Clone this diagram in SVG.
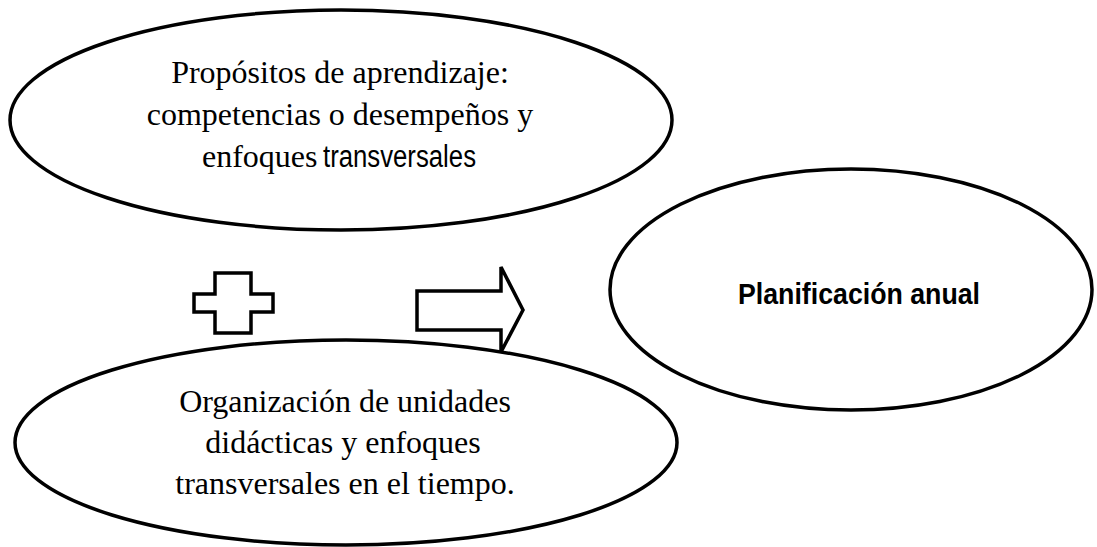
<svg xmlns="http://www.w3.org/2000/svg" width="1097" height="547" viewBox="0 0 1097 547">
  <style>
    .shape { fill: #ffffff; stroke: #000000; stroke-width: 3.5; }
    .serif { font-family: "Liberation Serif", "Times New Roman", serif; font-size: 32px; fill: #000000; }
    .sans { font-family: "Liberation Sans", Arial, sans-serif; font-size: 31px; fill: #000000; }
    .bold { font-family: "Liberation Sans", Arial, sans-serif; font-size: 30px; font-weight: bold; fill: #000000; }
  </style>
  <rect width="1097" height="547" fill="#ffffff"/>

  <g id="node-propositos">
    <ellipse class="shape" cx="341" cy="120" rx="331" ry="110"/>
    <text class="serif" x="340" y="83" text-anchor="middle">Propósitos de aprendizaje:</text>
    <text class="serif" x="340" y="125" text-anchor="middle">competencias o desempeños y</text>
    <text class="serif" y="167"><tspan x="202">enfoques</tspan><tspan class="sans" x="323" textLength="153" lengthAdjust="spacingAndGlyphs">transversales</tspan></text>
  </g>

  <g id="node-organizacion">
    <ellipse class="shape" cx="346" cy="442.5" rx="331" ry="102.5"/>
    <text class="serif" x="345" y="412" text-anchor="middle">Organización de unidades</text>
    <text class="serif" x="343" y="453" text-anchor="middle">didácticas y enfoques</text>
    <text class="serif" x="345" y="494" text-anchor="middle">transversales en el tiempo.</text>
  </g>

  <g id="node-planificacion">
    <ellipse class="shape" cx="851" cy="289.5" rx="241" ry="120.5"/>
    <text class="bold" x="738" y="304" textLength="242" lengthAdjust="spacingAndGlyphs">Planificación anual</text>
  </g>

  <g id="connectors">
    <polygon id="plus" class="shape" points="215,273 251,273 251,294 273,294 273,312 251,312 251,333 215,333 215,312 194,312 194,294 215,294"/>
    <polygon id="arrow" class="shape" stroke-linejoin="miter" points="417,291 501,291 501,267 523,310 501,352 501,330 417,330"/>
  </g>
</svg>
